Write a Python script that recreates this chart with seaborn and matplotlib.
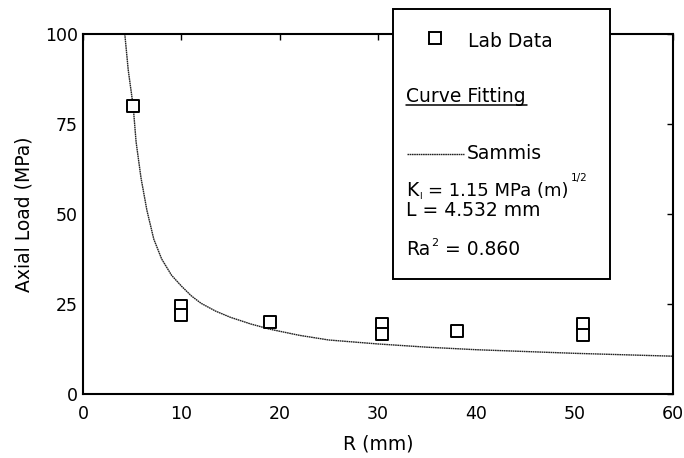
import matplotlib
matplotlib.use("Agg")
import matplotlib.pyplot as plt
import seaborn as sns
import pandas as pd
from matplotlib.patches import Rectangle
from matplotlib.lines import Line2D

# ---- data ----
lab_R = [5.1, 10.0, 10.0, 19.0, 30.4, 30.4, 38.0, 50.8, 50.8]
lab_load = [80.0, 24.5, 22.0, 20.0, 19.4, 16.8, 17.6, 19.5, 16.3]

fit_R = [4.25, 4.6, 5.1, 5.4, 5.9, 6.5, 7.2, 8.0, 9.0, 10.0, 11.0, 12.0,
         13.5, 15.0, 17.0, 19.0, 22.0, 25.0, 30.0, 35.0, 40.0, 45.0, 50.0,
         55.0, 60.0]
fit_load = [100.0, 90.0, 80.0, 70.0, 60.0, 51.0, 43.0, 37.5, 33.0, 30.0,
            27.3, 25.2, 23.0, 21.3, 19.5, 18.0, 16.3, 15.0, 13.9, 13.0,
            12.3, 11.8, 11.3, 10.9, 10.5]

x_ticks = [0, 10, 20, 30, 40, 50, 60]
y_ticks = [0, 25, 50, 75, 100]

lab_df = pd.DataFrame({"R": lab_R, "load": lab_load})
fit_df = pd.DataFrame({"R": fit_R, "load": fit_load})

sns.set_theme(style="white")
plt.rcParams["font.family"] = ["DejaVu Sans"]
plt.rcParams["mathtext.fontset"] = "dejavusans"

W, H = 684, 458
fig = plt.figure(figsize=(W / 100, H / 100), dpi=100)
ax = fig.add_axes([83 / W, 1 - 394 / H, (673 - 83) / W, (394 - 34) / H])

sns.lineplot(data=fit_df, x="R", y="load", ax=ax, sort=False, color="#222222",
             lw=1.0, linestyle=(0, (1.2, 0.4)), zorder=2)
sns.scatterplot(data=lab_df, x="R", y="load", ax=ax, marker="s", s=72,
                facecolor="white", edgecolor="black", linewidth=1.4, zorder=3)

ax.set_xlim(0, 60)
ax.set_ylim(0, 100)
ax.set_xticks(x_ticks)
ax.set_yticks(y_ticks)
ax.tick_params(direction="in", length=4, width=1.0, top=True, right=True,
               labelsize=12.5, colors="black")
ax.tick_params(axis="x", pad=8)
ax.tick_params(axis="y", pad=3.6)
for sp in ax.spines.values():
    sp.set_linewidth(1.5)
    sp.set_color("black")
ax.set_xlabel("R (mm)", fontsize=13.5, color="black", labelpad=8)
ax.set_ylabel("Axial Load (MPa)", fontsize=13.5, color="black", labelpad=8)

# ---- legend box (drawn over top spine) ----
def fx(px):
    return px / W

def fy(py):
    return 1 - py / H

box = Rectangle((fx(393), fy(279)), fx(610) - fx(393), fy(9) - fy(279),
                transform=fig.transFigure, facecolor="white", edgecolor="black",
                linewidth=1.4, zorder=10)
fig.add_artist(box)

fig.add_artist(Line2D([fx(435)], [fy(38)], marker="s", markersize=8.5,
                      markerfacecolor="white", markeredgecolor="black",
                      markeredgewidth=1.4, linestyle="none",
                      transform=fig.transFigure, zorder=11))
fs = 13.5
kw = dict(fontsize=fs, va="baseline", ha="left", zorder=11, color="black")
fig.text(fx(468), fy(47), "Lab Data", **kw)
fig.text(fx(406), fy(102), "Curve Fitting", **kw)
fig.add_artist(Line2D([fx(406), fx(527)], [fy(105), fy(105)], color="black",
                      lw=1.1, transform=fig.transFigure, zorder=11))
fig.add_artist(Line2D([fx(407), fx(464)], [fy(154), fy(154)], color="#222222",
                      lw=1.0, linestyle=(0, (1.2, 0.4)),
                      transform=fig.transFigure, zorder=11))
fig.text(fx(467), fy(159), "Sammis", **kw)


def chain(prev, s, base_px, size, gap_px):
    """Place text s right after the text artist prev, baseline at base_px."""
    return fig.add_artist(matplotlib.text.Annotation(
        s, xy=(1, fy(base_px)), xycoords=(prev, "figure fraction"),
        xytext=(gap_px * 0.72, 0), textcoords="offset points",
        fontsize=size, va="baseline", ha="left", zorder=11, color="black"))


# K_I line built from pieces so the tiny sub/superscripts stay compact
tK = fig.text(fx(406), fy(196), "K", **kw)
tI = chain(tK, "I", 199, 6.5, 0.5)
tEq = chain(tI, "= 1.15 MPa (m)", 196, 13, 7)
chain(tEq, "1/2", 181, 7.5, 1.5)

fig.text(fx(406), fy(216), "L = 4.532 mm", **kw)

tRa = fig.text(fx(406), fy(255), "Ra", **kw)
t2 = chain(tRa, "2", 246, 8, 1)
chain(t2, "= 0.860", 255, fs, 7)

fig.savefig("out.png", dpi=100)
